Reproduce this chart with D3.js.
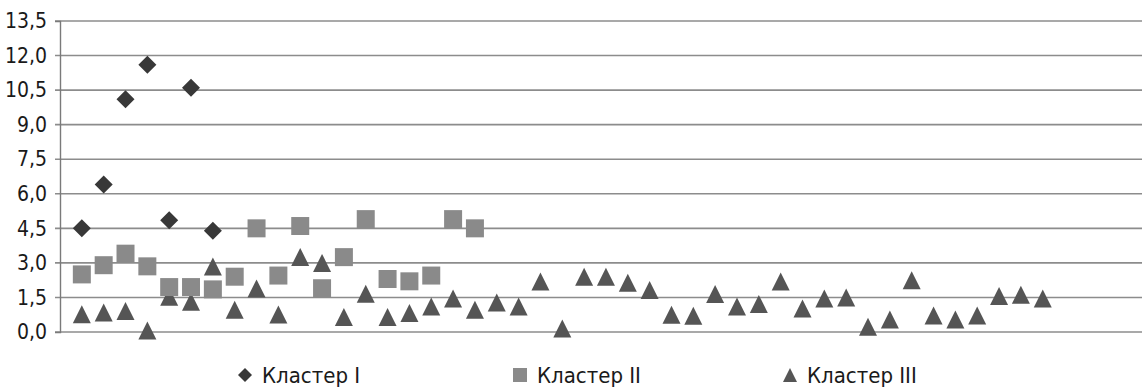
<!DOCTYPE html>
<html>
<head>
<meta charset="utf-8">
<script src="https://cdn.jsdelivr.net/npm/d3@7"></script>
<style>
  body { margin: 0; background: #fff; }
  text { font-family: "Liberation Sans Narrow", "DejaVu Sans Condensed", sans-serif; fill: #1a1a1a; }
</style>
</head>
<body>
<div id="chart"></div>
<script>
// values, x = point index
var cluster1 = [4.5, 6.4, 10.1, 11.6, 4.85, 10.6, 4.4];
var cluster2 = [2.5, 2.9, 3.4, 2.85, 1.95, 1.95, 1.85, 2.4, 4.5, 2.45, 4.6, 1.9, 3.25, 4.9, 2.3, 2.2, 2.45, 4.9, 4.5];
var cluster3 = [0.77, 0.85, 0.91, 0.07, 1.53, 1.31, 2.84, 0.97, 1.89, 0.76, 3.26, 3.0, 0.65, 1.66, 0.65, 0.82, 1.11, 1.45, 0.97, 1.28,
                1.11, 2.19, 0.15, 2.4, 2.4, 2.14, 1.82, 0.75, 0.7, 1.65, 1.11, 1.22, 2.19, 1.02, 1.45, 1.5, 0.23, 0.54, 2.25, 0.72,
                0.54, 0.72, 1.56, 1.62, 1.45];
var yTicks = [0, 1.5, 3, 4.5, 6, 7.5, 9, 10.5, 12, 13.5];
var seriesNames = ["Кластер I", "Кластер II", "Кластер III"];

var width = 1142, height = 388;
var margin = {top: 21, right: 1, bottom: 56, left: 60};

var svg = d3.select("#chart").append("svg")
    .attr("width", width)
    .attr("height", height);

var x = d3.scaleLinear()
    .domain([0, 49.5])
    .range([margin.left, width - margin.right]);

var y = d3.scaleLinear()
    .domain([0, 13.5])
    .range([height - margin.bottom, margin.top]);

// gridlines + ticks
var yAxis = d3.axisLeft(y)
    .tickValues(yTicks)
    .tickSize(5)
    .tickPadding(8)
    .tickFormat(function(d){ return d3.format(".1f")(d).replace(".", ","); });

svg.append("g")
  .selectAll("line")
  .data(yTicks)
  .enter()
  .append("line")
    .attr("x1", margin.left - 5)
    .attr("x2", width)
    .attr("y1", function(d){ return y(d); })
    .attr("y2", function(d){ return y(d); })
    .style("stroke", "#8c8c8c")
    .style("stroke-width", 1.6);

var ga = svg.append("g")
    .attr("transform", "translate(" + margin.left + ",0)")
    .call(yAxis);
ga.select(".domain").style("stroke", "#7a7a7a").style("stroke-width", 1.4);
ga.selectAll(".tick line").remove();
ga.selectAll(".tick text")
    .attr("x", -13)
    .style("font-size", "21px")
    .style("fill", "#1a1a1a");

// marker shapes, centred on bbox
function diamond(r){ return "M0," + (-r) + "L" + r + ",0L0," + r + "L" + (-r) + ",0Z"; }
function square(r){ return "M" + (-r) + "," + (-r) + "H" + r + "V" + r + "H" + (-r) + "Z"; }
function triangle(r){ return "M0," + (-r) + "L" + r + "," + r + "L" + (-r) + "," + r + "Z"; }

var series = [
  {name: seriesNames[0], values: cluster1, shape: diamond, r: 9, color: "#383838", lr: 7},
  {name: seriesNames[1], values: cluster2, shape: square, r: 9, color: "#8a8a8a", lr: 7},
  {name: seriesNames[2], values: cluster3, shape: triangle, r: 9, color: "#555555", lr: 7}
];

// draw triangles first so diamonds/squares are on top like the original
[series[2], series[1], series[0]].forEach(function(s){
  svg.append("g")
    .selectAll("path")
    .data(s.values)
    .enter()
    .append("path")
      .attr("d", s.shape(s.r))
      .attr("transform", function(d, i){ return "translate(" + x(i + 1) + "," + y(d) + ")"; })
      .style("fill", s.color);
});

// legend
var legendX = [245, 520, 790];
var legend = svg.append("g")
  .selectAll("g")
  .data(series)
  .enter()
  .append("g")
    .attr("transform", function(d, i){ return "translate(" + legendX[i] + ",375)"; });

legend.append("path")
    .attr("d", function(d){ return d.shape(d.lr); })
    .style("fill", function(d){ return d.color; });

legend.append("text")
    .attr("x", 17)
    .attr("dy", "0.35em")
    .style("font-size", "22px")
    .text(function(d){ return d.name; });
</script>
</body>
</html>
